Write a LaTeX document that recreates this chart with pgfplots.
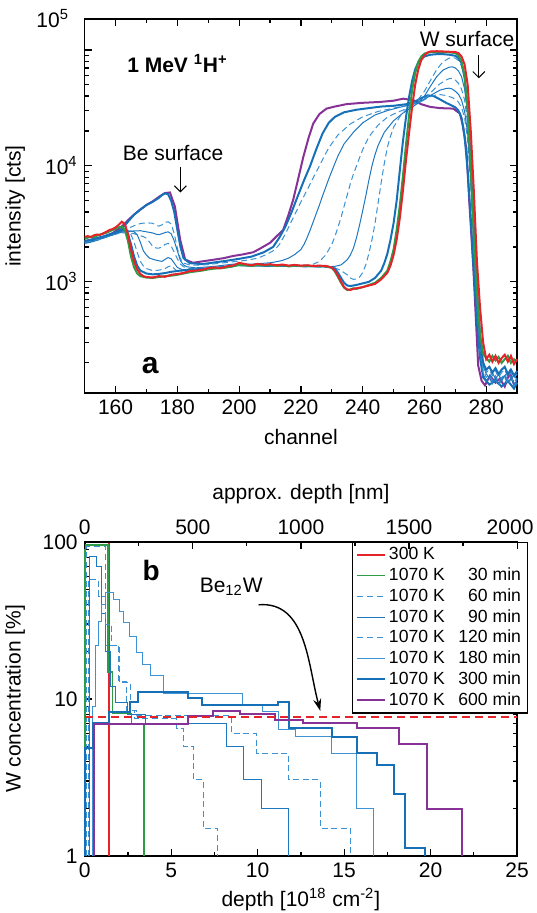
\documentclass[border=0pt]{standalone}
\usepackage{fontspec}
\setmainfont{Liberation Sans}
\usepackage{pgfplots}
\pgfplotsset{compat=1.18}
\usetikzlibrary{arrows.meta}

\definecolor{cred}{HTML}{E62328}
\definecolor{cgreen}{HTML}{2E9B47}
\definecolor{cpurple}{HTML}{873296}
\definecolor{cbthick}{HTML}{1670B8}
\definecolor{cbthin}{HTML}{1E78C0}
\definecolor{cbdash}{HTML}{3A92D4}
\definecolor{cblight}{HTML}{3F93D3}

\pgfplotsset{
  every axis/.append style={
    scale only axis,
    width=216.2pt,
    font=\fontsize{10.5}{12}\selectfont,
    axis line style={line width=0.8pt},
    every tick/.style={black, line width=0.6pt},
    major tick length=3.5pt,
    minor tick length=2pt,
    tick align=inside,
    /pgf/number format/assume math mode=true,
    /pgf/number format/1000 sep={},
  },
  thinb/.style={line width=0.5pt},
  thickb/.style={line width=1pt},
  dashb/.style={line width=0.5pt, dash pattern=on 3pt off 1.8pt},
}

\begin{document}
\begin{tikzpicture}
\useasboundingbox (-42.35pt,-28.5pt) rectangle (225.65pt,428pt);

% ---------------- panel a ----------------
\begin{axis}[
  at={(0,231.5pt)}, anchor=south west,
  height=187pt,
  xmin=150, xmax=290,
  ymode=log, ymin=110, ymax=185000,
  xtick={160,180,...,280}, minor x tick num=1,
  ytick={1000,10000,100000},
  yticklabels={10\textsuperscript{3},10\textsuperscript{4},{}},
  minor ytick={200,300,400,500,600,700,800,900,2000,3000,4000,5000,6000,7000,8000,9000,20000,30000,40000,50000,60000,70000,80000,90000},
  xlabel={channel},
  ylabel={intensity [cts]},
  xlabel style={at={(axis description cs:0.5,-0.118)}, anchor=center},
  ylabel style={at={(axis description cs:-0.161,0.5)}, anchor=center},
  clip=false,
]
% 600 min
\addplot[cpurple, line width=1pt] coordinates {
(150,2230)(153,2350)(156,2450)(159,2630)(162,3000)(164,3400)(166,3800)(168,4200)(170,4600)(172,4940)(174,5400)(176,5830)(177.6,5900)(179.2,4470)(180.9,2320)(182.5,1560)(185,1460)(188,1500)(191.6,1550)(195,1600)(198,1670)(201,1720)(204.6,1800)(207,1950)(210,2170)(212,2450)(214.3,2820)(216,3800)(217.5,5100)(219,7500)(220.8,12000)(222.5,17500)(224,23200)(226,28000)(228.3,31200)(231,32500)(234.8,34100)(240,35000)(245.6,35600)(250,36500)(253.1,38000)(256.4,36900)(259,34000)(261.8,32300)(265,31500)(269.3,31200)(271.5,28300)(272.5,22000)(273.6,13700)(274.5,5000)(275.8,1370)(277.4,190)(278.5,140)(279.6,128)(281.2,155)(283,135)(284.4,146)(286,125)(287.6,166)(289,130)(290,136)};
% 300 min
\addplot[cbthick, thickb] coordinates {
(150,2200)(153,2300)(156,2450)(159,2600)(162,2850)(164,3300)(166,3800)(168,4200)(170,4600)(172,4900)(174,5300)(175,5600)(176,5800)(177,5700)(178,5000)(179,4000)(180,2800)(181,2000)(182,1600)(184,1450)(188,1420)(192,1470)(196,1520)(200,1580)(204,1650)(208,1800)(211,2000)(213,2400)(215,3000)(217,4000)(219,5500)(221,7500)(223,10000)(225,14000)(227,19000)(229,23500)(231,26500)(234,29000)(238,30500)(242,31500)(246,32500)(250,33000)(254,34000)(257,36000)(259,38500)(261,40500)(263,40000)(265,37500)(267,35000)(269,33000)(270,32000)(271,30000)(272,26000)(273,18000)(274,9000)(275,3500)(276,1200)(277,450)(278,220)(279,150)(281,130)(283,140)(285,125)(287,140)(289,120)(290,135)};
% 240 min
\addplot[cbdash, dashb] coordinates {
(150,2150)(152,2210)(154,2290)(156,2380)(158,2480)(160,2600)(162,2720)(164,2880)(166,3050)(168,3180)(170,3230)(172,3200)(173,3100)(174,3020)(175,3100)(176,3250)(177,3300)(178,3150)(179,2600)(180,1950)(181,1580)(182,1450)(184,1400)(187,1390)(190,1410)(193,1440)(196,1470)(199,1500)(202,1530)(205,1580)(207,1640)(209,1730)(211,1850)(212,1950)(213,2100)(214,2330)(215,2600)(216,2950)(217,3350)(218,3800)(219,4300)(220,4900)(221,5500)(222,6200)(223,7000)(224,7900)(225,8900)(226,10000)(227,11300)(229,14300)(232,18500)(236,23000)(240,26500)(245,29500)(250,31500)(254,33000)(257,34300)(259,36000)(261,38500)(263,40500)(265,41200)(267,40500)(269,38800)(270,37500)(271,35500)(272,32000)(273,26000)(274,16500)(275,6800)(276,2000)(277,600)(278,250)(279,160)(280,140)(281,148)(282,132)(283,145)(284,128)(285,142)(286,150)(287,130)(288,145)(289,127)(290,138)};
% 180 min
\addplot[cbthin, thinb] coordinates {
(150,2150)(152,2200)(154,2280)(156,2380)(158,2480)(160,2580)(162,2680)(164,2720)(166,2750)(168,2760)(170,2700)(172,2640)(173,2580)(174,2550)(175,2600)(176,2660)(177,2700)(178,2600)(179,2250)(180,1850)(181,1520)(182,1400)(183,1350)(186,1320)(189,1340)(192,1360)(195,1390)(198,1420)(201,1430)(204,1420)(207,1440)(210,1460)(212,1490)(214,1530)(216,1600)(218,1720)(220,1900)(221,2100)(222,2400)(223,2800)(224,3300)(225,3900)(226,4600)(227,5500)(228,6500)(229,7700)(230,9000)(231,10500)(232,12200)(234,15500)(237,19500)(240,23500)(244,27500)(248,30000)(252,32000)(256,34000)(259,36500)(261,39000)(263,42000)(265,45000)(267,46500)(268,46800)(269,46000)(270,44000)(271,41500)(272,37000)(273,29500)(274,19000)(275,7500)(276,2100)(277,630)(278,260)(279,160)(280,140)(281,150)(282,135)(283,148)(284,132)(285,146)(286,155)(287,135)(288,148)(289,130)(290,142)};
% 120 min
\addplot[cbdash, dashb] coordinates {
(150,2200)(152,2250)(154,2320)(156,2420)(158,2500)(160,2580)(162,2650)(164,2640)(166,2600)(168,2500)(169,2450)(170,2380)(171,2200)(172,2030)(173,1960)(174,1950)(175,2000)(176,2100)(177,2150)(178,2030)(179,1800)(180,1580)(181,1420)(182,1350)(184,1300)(187,1300)(190,1320)(193,1340)(196,1370)(199,1400)(202,1390)(205,1380)(208,1390)(211,1380)(214,1390)(217,1370)(220,1380)(222,1390)(224,1420)(226,1500)(228,1700)(230,2100)(231,2450)(232,2950)(233,3600)(234,4500)(235,5600)(236,7000)(237,8500)(238,10000)(239,11800)(240,13800)(242,17800)(245,22500)(248,26300)(251,28800)(254,31000)(257,33500)(259,36000)(261,40000)(263,45500)(265,51000)(267,55000)(268,56500)(269,57000)(270,55000)(271,51500)(272,46000)(273,37000)(274,23000)(275,9000)(276,2500)(277,720)(278,290)(279,175)(280,150)(281,158)(282,140)(283,155)(284,138)(285,150)(286,160)(287,140)(288,152)(289,136)(290,148)};
% 90 min
\addplot[cbthin, thinb] coordinates {
(150,2250)(152,2300)(154,2360)(156,2430)(158,2520)(160,2620)(162,2720)(164,2760)(166,2700)(167,2550)(168,2200)(169,1850)(170,1700)(171,1600)(173,1540)(175,1500)(176,1560)(177,1620)(178,1580)(179,1450)(180,1330)(182,1260)(184,1270)(187,1290)(190,1310)(193,1330)(196,1360)(199,1400)(202,1380)(205,1370)(208,1390)(211,1370)(214,1380)(217,1360)(220,1370)(223,1360)(226,1350)(229,1350)(231,1360)(233,1400)(235,1550)(236,1700)(237,1950)(238,2400)(239,3100)(240,4100)(241,5500)(242,7500)(243,10000)(244,12500)(245,15000)(247,19500)(250,24500)(253,28500)(256,32000)(258,35000)(260,40000)(262,49000)(264,59000)(266,67000)(268,71000)(269,71500)(270,70000)(271,66000)(272,59000)(273,46000)(274,28000)(275,11000)(276,3000)(277,850)(278,330)(279,190)(280,160)(281,150)(282,165)(283,145)(284,160)(285,140)(286,155)(287,165)(288,145)(289,158)(290,142)};
% 60 min
\addplot[cbdash, dashb] coordinates {
(150,2200)(152,2260)(154,2330)(156,2400)(158,2500)(160,2600)(162,2700)(164,2680)(165,2550)(166,2200)(167,1800)(168,1500)(169,1370)(170,1300)(172,1250)(174,1260)(176,1300)(177,1350)(178,1380)(179,1300)(180,1230)(182,1210)(184,1240)(187,1270)(190,1300)(193,1320)(196,1350)(199,1380)(202,1370)(205,1360)(208,1380)(211,1360)(214,1370)(217,1350)(220,1360)(223,1350)(226,1340)(229,1340)(231,1320)(233,1250)(235,1150)(236,1080)(237,1050)(238,1060)(239,1100)(240,1200)(241,1400)(242,1750)(243,2300)(244,3200)(245,4800)(246,7200)(247,10500)(248,14500)(249,18000)(250,21500)(252,26500)(254,30500)(256,33500)(258,37500)(260,44000)(262,55000)(264,68000)(266,79000)(268,85000)(269,86000)(270,85000)(271,81000)(272,73000)(273,57000)(274,34000)(275,12000)(276,3500)(277,1000)(278,380)(279,210)(280,165)(281,175)(282,155)(283,170)(284,150)(285,165)(286,175)(287,150)(288,165)(289,148)(290,160)};
% short anneal
\addplot[cbthick, thickb] coordinates {
(150,2250)(152,2300)(154,2380)(156,2450)(158,2550)(160,2650)(162,2800)(163,2820)(164,2600)(165,2100)(166,1650)(167,1380)(168,1250)(170,1180)(172,1160)(174,1170)(176,1190)(178,1220)(180,1240)(182,1260)(185,1280)(188,1290)(191,1320)(194,1330)(197,1350)(200,1400)(203,1380)(206,1390)(209,1370)(212,1390)(215,1370)(218,1380)(221,1360)(224,1370)(227,1360)(229,1350)(231,1300)(232,1200)(233,1080)(234,980)(235,930)(236,920)(238,940)(240,970)(242,1000)(244,1080)(246,1250)(247,1450)(248,1750)(249,2300)(250,3200)(251,5000)(252,9000)(253,16000)(254,26000)(255,39000)(256,54000)(257,68000)(258,78000)(259,84000)(260,88000)(262,91000)(264,92000)(266,92000)(268,91000)(270,89000)(271,85000)(272,77000)(273,58000)(274,30000)(275,10000)(276,2800)(277,850)(278,340)(279,200)(280,175)(281,185)(282,165)(283,180)(284,160)(285,175)(286,185)(287,160)(288,175)(289,155)(290,170)};
% 30 min
\addplot[cgreen, line width=1pt] coordinates {
(150,2350)(151,2400)(152,2450)(153,2430)(154,2500)(155,2560)(156,2600)(157,2650)(158,2720)(159,2800)(160,2870)(161,2950)(162,3000)(163,2800)(164,2250)(165,1650)(166,1330)(167,1180)(168,1120)(170,1090)(172,1080)(174,1100)(176,1120)(178,1130)(180,1150)(182,1180)(184,1210)(186,1230)(188,1250)(190,1280)(192,1300)(194,1310)(196,1330)(198,1360)(200,1400)(202,1390)(204,1370)(206,1400)(208,1380)(210,1400)(212,1370)(214,1390)(216,1360)(218,1380)(220,1370)(222,1380)(224,1360)(226,1370)(228,1360)(230,1320)(231,1230)(232,1100)(233,980)(234,890)(235,850)(236,860)(237,880)(238,870)(240,900)(242,940)(244,980)(246,1080)(248,1250)(249,1500)(250,1900)(251,2800)(252,4500)(253,8000)(254,15000)(255,27000)(256,45000)(257,63000)(258,79000)(259,88000)(260,93000)(262,96000)(264,96500)(266,96000)(268,95500)(270,94000)(271,90000)(272,80000)(273,60000)(274,30000)(275,9000)(276,2500)(277,800)(278,350)(279,240)(280,220)(281,205)(282,230)(283,210)(284,225)(285,200)(286,215)(287,230)(288,200)(289,215)(290,205)};
% 300 K
\addplot[cred, line width=1pt] coordinates {
(150,2440)(151,2480)(152,2430)(153,2520)(154,2560)(155,2540)(156,2620)(157,2700)(158,2800)(159,2850)(160,2950)(161,3100)(162,3300)(163,3150)(164,2600)(165,1900)(166,1500)(167,1280)(168,1170)(169,1120)(170,1100)(172,1090)(174,1120)(176,1105)(178,1150)(180,1170)(182,1190)(184,1240)(186,1250)(188,1270)(190,1310)(192,1330)(194,1310)(196,1360)(198,1380)(200,1460)(202,1420)(204,1390)(206,1430)(208,1400)(210,1420)(212,1390)(214,1410)(216,1380)(218,1400)(220,1380)(222,1390)(224,1370)(226,1380)(228,1370)(230,1330)(231,1250)(232,1130)(233,1000)(234,900)(235,860)(236,850)(237,870)(238,880)(240,900)(242,930)(244,960)(246,1050)(248,1200)(249,1380)(250,1700)(251,2300)(252,3500)(253,6000)(254,11000)(255,19000)(256,32000)(257,50000)(258,68000)(259,82000)(260,90000)(261,95000)(262,97000)(264,97500)(266,97000)(268,96500)(270,96000)(271,94000)(272,88000)(273,75000)(274,50000)(275,20000)(276,6000)(277,1500)(278,600)(279,300)(280,215)(281,235)(282,205)(283,230)(284,200)(285,220)(286,235)(287,205)(288,230)(289,195)(290,215)};

\node[anchor=east, xshift=-4.3pt] at (rel axis cs:0,1) {10\textsuperscript{5}};
\node[anchor=west, font=\fontsize{10.5}{12}\selectfont\bfseries] at (axis cs:161.5,76000) {1 MeV \textsuperscript{1}H\textsuperscript{+}};
\node[font=\fontsize{10.5}{12}\selectfont] at (axis cs:178.6,12900) {Be surface};
\draw[-{Straight Barb[length=3pt,width=6pt]}, line width=0.5pt] (axis cs:181,9700) -- (axis cs:181,5900);
\node[font=\fontsize{10.5}{12}\selectfont] at (axis cs:273.8,125000) {W surface};
\draw[-{Straight Barb[length=3pt,width=6pt]}, line width=0.5pt] (axis cs:277.6,90000) -- (axis cs:277.6,57000);
\node[font=\fontsize{15}{17}\selectfont\bfseries] at (axis cs:171.2,190) {a};
\end{axis}

% ---------------- panel b ----------------
\begin{axis}[
  at={(0,0)}, anchor=south west,
  height=157pt,
  xmin=0, xmax=25,
  ymode=log, ymin=1, ymax=100,
  xtick={0,5,...,25}, minor x tick num=1,
  xtick pos=bottom,
  ytick={1,10,100}, yticklabels={1,10,100},
  minor ytick={2,3,4,5,6,7,8,9,20,30,40,50,60,70,80,90},
  xlabel={depth [10\textsuperscript{18} cm\textsuperscript{-2}]},
  ylabel={W concentration [\%]},
  xlabel style={at={(axis description cs:0.5,-0.14)}, anchor=center},
  ylabel style={at={(axis description cs:-0.161,0.5)}, anchor=center},
  clip=false,
  const plot mark left,
  legend cell align=left,
  legend style={at={(axis description cs:1.0254,1.0)}, anchor=north east,
    draw=black, line width=0.6pt, fill=white,
    font=\fontsize{8.8}{10}\selectfont,
    nodes={inner sep=1.25pt},
    inner xsep=2pt, inner ysep=1.2pt},
  legend image code/.code={\draw[#1] (0pt,0pt) -- (14pt,0pt);},
]
\addplot[cred, line width=1pt] coordinates {(0,100)(1.4,100)(1.4,1)};
\addlegendentry{300 K}
\addplot[cgreen, line width=0.8pt] coordinates {(0,1)(0,95.7)(1.33,14.9)(1.6,8.1)(2.7,7.0)(3.43,1)};
\addlegendentry{\makebox[31pt][l]{1070 K}\makebox[35pt][r]{30 min}}
\addplot[cbdash, dashb] coordinates {(0.13,1)(0.13,94)(1.19,22)(1.97,13)(2.4,8.5)(2.9,7.5)(5.32,6.5)(5.71,4.97)(6.29,3.05)(6.87,1.5)(7.7,1)};
\addlegendentry{\makebox[31pt][l]{1070 K}\makebox[35pt][r]{60 min}}
\addplot[cbthin, thinb] coordinates {(0.25,1)(0.25,81)(0.71,70)(0.95,35)(1.2,20)(1.5,12)(1.8,9.5)(2.5,8.0)(3.5,7.0)(8.22,4.97)(9.18,3.05)(10.24,2.0)(11.79,1)};
\addlegendentry{\makebox[31pt][l]{1070 K}\makebox[35pt][r]{90 min}}
\addplot[cbdash, dashb] coordinates {(0.2,1)(0.2,57.5)(0.81,45)(1.2,30)(1.56,22)(2.0,12.8)(2.62,8.5)(3.0,7.8)(8.5,6.0)(9.95,4.5)(11.79,3.05)(13.62,1.5)(15.39,1)};
\addlegendentry{\makebox[31pt][l]{1070 K}\makebox[35pt][r]{120 min}}
\addplot[cblight, thinb] coordinates {(0.45,1)(0.45,9)(0.61,22)(0.81,31)(1.0,40)(1.19,48)(1.68,43)(2.0,36)(2.24,30.5)(2.6,25)(3.0,19.7)(3.37,16.5)(3.8,14.2)(4.53,10.9)(9.1,9.15)(10.3,8.27)(11.2,6.4)(12.2,5.75)(14.29,4.5)(15.74,2.0)(16.7,1)};
\addlegendentry{\makebox[31pt][l]{1070 K}\makebox[35pt][r]{180 min}}
\addplot[cbthick, thickb] coordinates {(0.02,1)(0.02,4.9)(0.46,7.0)(1.39,8.3)(2.64,9.6)(3.1,11.1)(5.98,10.1)(6.79,9.15)(11.2,9.6)(11.8,6.5)(14.29,5.75)(15.74,4.5)(16.9,3.8)(17.86,2.5)(18.54,1.12)(19.66,1)};
\addlegendentry{\makebox[31pt][l]{1070 K}\makebox[35pt][r]{300 min}}
\addplot[cpurple, line width=1pt] coordinates {(0.55,1)(0.55,6.9)(5.98,7.8)(7.44,8.4)(8.99,8.0)(11.0,7.35)(12.6,7.0)(15.74,6.5)(18.15,5.2)(19.79,2.0)(21.82,1)};
\addlegendentry{\makebox[31pt][l]{1070 K}\makebox[35pt][r]{600 min}}
\addplot[cred, line width=0.9pt, dash pattern=on 4pt off 2.5pt, forget plot, sharp plot] coordinates {(0,7.69)(25,7.69)};

\node[font=\fontsize{14}{16}\selectfont\bfseries] at (axis cs:3.84,66) {b};
\node[font=\fontsize{10.5}{12}\selectfont] at (axis cs:8.47,52) {Be\textsubscript{12}W};
\draw[-{Stealth[length=6pt,width=4pt]}, line width=0.7pt] (axis cs:10.05,39.8) to[out=5,in=105] (axis cs:13.62,8.4);
\end{axis}

% top axis of panel b
\begin{axis}[
  at={(0,0)}, anchor=south west,
  height=157pt,
  xmin=0, xmax=2000, ymin=0, ymax=1,
  axis x line*=top, axis y line=none,
  xtick={0,500,...,2000}, minor x tick num=1,
  xticklabels={0,500,1000,1500,\hspace*{-7pt}2000},
  xlabel={approx. depth [nm]},
  xlabel style={at={(axis description cs:0.5,1.153)}, anchor=center},
]
\addplot[draw=none] coordinates {(0,0.5)};
\end{axis}
\end{tikzpicture}
\end{document}
